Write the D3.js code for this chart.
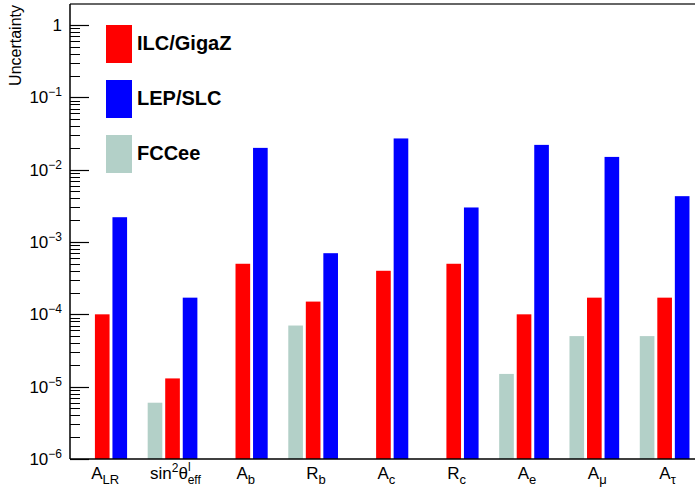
<!DOCTYPE html>
<meta charset="utf-8">
<script src="https://d3js.org/d3.v7.min.js"></script>
<style>
body {margin: 0; background: white;}
text {font-family: "Liberation Sans", Arial, sans-serif; fill: black;}
</style>
<body>
<svg width=695 height=489></svg>
<script>
// chart data
var categories = ["A_LR", "sin2theta_eff", "A_b", "R_b", "A_c", "R_c", "A_e", "A_mu", "A_tau"];
var series = ["FCCee", "ILC/GigaZ", "LEP/SLC"];
var fccee = [null, 6e-6, null, 7e-5, null, null, 1.5e-5, 5e-5, 5e-5];
var ilc   = [1e-4, 1.3e-5, 5e-4, 1.5e-4, 4e-4, 5e-4, 1e-4, 1.7e-4, 1.7e-4];
var lep   = [2.2e-3, 1.7e-4, 2e-2, 7e-4, 2.7e-2, 3e-3, 2.2e-2, 1.5e-2, 4.3e-3];
var legendOrder = ["ILC/GigaZ", "LEP/SLC", "FCCee"];
var yMajor = [1e-6, 1e-5, 1e-4, 1e-3, 1e-2, 1e-1, 1];

var colors = {"FCCee": "#b3d0c8", "ILC/GigaZ": "#ff0000", "LEP/SLC": "#0000ff"};
var values = {"FCCee": fccee, "ILC/GigaZ": ilc, "LEP/SLC": lep};

var svg = d3.select("svg"),
    width = +svg.attr("width"),
    height = +svg.attr("height");

var plotLeft = 70, plotTop = 4, plotBottom = 459;

var x = d3.scaleBand().domain(categories).range([plotLeft, plotLeft + 9 * 70.3]);
var bw = x.bandwidth();
var xs = d3.scaleBand().domain(series).range([bw * 0.105, bw * 0.812]).paddingInner(0.165);
var y = d3.scaleLog().domain([1e-6, 1.95]).range([plotBottom, plotTop]);

// bars
series.forEach(function(s) {
    svg.append("g").selectAll("rect")
        .data(values[s].map(function(v, i) { return {cat: categories[i], v: v}; })
            .filter(function(d) { return d.v != null; }))
        .enter().append("rect")
        .attr("x", function(d) { return x(d.cat) + xs(s); })
        .attr("width", xs.bandwidth())
        .attr("y", function(d) { return y(d.v); })
        .attr("height", function(d) { return plotBottom - y(d.v); })
        .attr("fill", colors[s]);
});

// frame
svg.append("line").attr("x1", plotLeft).attr("x2", width).attr("y1", plotTop).attr("y2", plotTop)
    .attr("stroke", "#333").attr("stroke-width", 1.5);
svg.append("line").attr("x1", plotLeft).attr("x2", width).attr("y1", plotBottom).attr("y2", plotBottom)
    .attr("stroke", "black").attr("stroke-width", 1.5);
svg.append("line").attr("x1", plotLeft).attr("x2", plotLeft).attr("y1", plotTop).attr("y2", plotBottom)
    .attr("stroke", "black").attr("stroke-width", 1.5);

// y ticks
var minor = [];
yMajor.forEach(function(m) {
    for (var k = 2; k <= 9; k++) if (m * k < 1.95) minor.push(m * k);
});
svg.append("g").selectAll("line").data(minor).enter().append("line")
    .attr("x1", plotLeft).attr("x2", plotLeft + 10)
    .attr("y1", function(d) { return Math.round(y(d)) + 0.5; })
    .attr("y2", function(d) { return Math.round(y(d)) + 0.5; })
    .attr("stroke", "black");
svg.append("g").selectAll("line").data(yMajor).enter().append("line")
    .attr("x1", plotLeft).attr("x2", plotLeft + 19)
    .attr("y1", function(d) { return Math.round(y(d)) + 0.5; })
    .attr("y2", function(d) { return Math.round(y(d)) + 0.5; })
    .attr("stroke", "black").attr("stroke-width", 1.2);

var ylab = svg.append("g").selectAll("text").data(yMajor).enter().append("text")
    .attr("x", 62)
    .attr("y", function(d) { return y(d) + 6; })
    .attr("text-anchor", "end")
    .style("font-size", "17px");
ylab.each(function(d) {
    var t = d3.select(this);
    var e = Math.round(Math.log10(d));
    if (e === 0) { t.text("1"); return; }
    t.append("tspan").text("10");
    t.append("tspan").attr("dy", -7).style("font-size", "12px").text("\u2212" + (-e));
});

svg.append("text")
    .attr("transform", "translate(21,5) rotate(-90)")
    .attr("text-anchor", "end")
    .style("font-size", "16px")
    .text("Uncertainty");

// x labels
var xl = svg.append("g").selectAll("text").data(categories).enter().append("text")
    .attr("x", function(d) { return x(d) + bw / 2; })
    .attr("y", 479)
    .attr("text-anchor", "middle")
    .style("font-size", "17px");
xl.each(function(d) {
    var t = d3.select(this);
    if (d === "sin2theta_eff") {
        t.append("tspan").text("sin");
        t.append("tspan").attr("dy", -7).style("font-size", "12px").text("2");
        t.append("tspan").attr("dy", 7).text("\u03b8");
        t.append("tspan").attr("dy", -8).style("font-size", "12px").text("l");
        t.append("tspan").attr("dx", -3).attr("dy", 13).style("font-size", "12px").text("eff");
        return;
    }
    var p = d.split("_");
    var sub = p[1] === "mu" ? "\u03bc" : p[1] === "tau" ? "\u03c4" : p[1];
    t.append("tspan").text(p[0]);
    t.append("tspan").attr("dy", 5).style("font-size", "13px").text(sub);
});

// legend
var leg = svg.append("g").selectAll("g").data(legendOrder).enter().append("g")
    .attr("transform", function(d, i) { return "translate(106," + (25 + i * 55) + ")"; });
leg.append("rect").attr("width", 26).attr("height", 38)
    .attr("fill", function(d) { return colors[d]; });
leg.append("text").attr("x", 31).attr("y", 25)
    .style("font-size", "20px").style("font-weight", "bold")
    .text(function(d) { return d; });
</script>
</body>
